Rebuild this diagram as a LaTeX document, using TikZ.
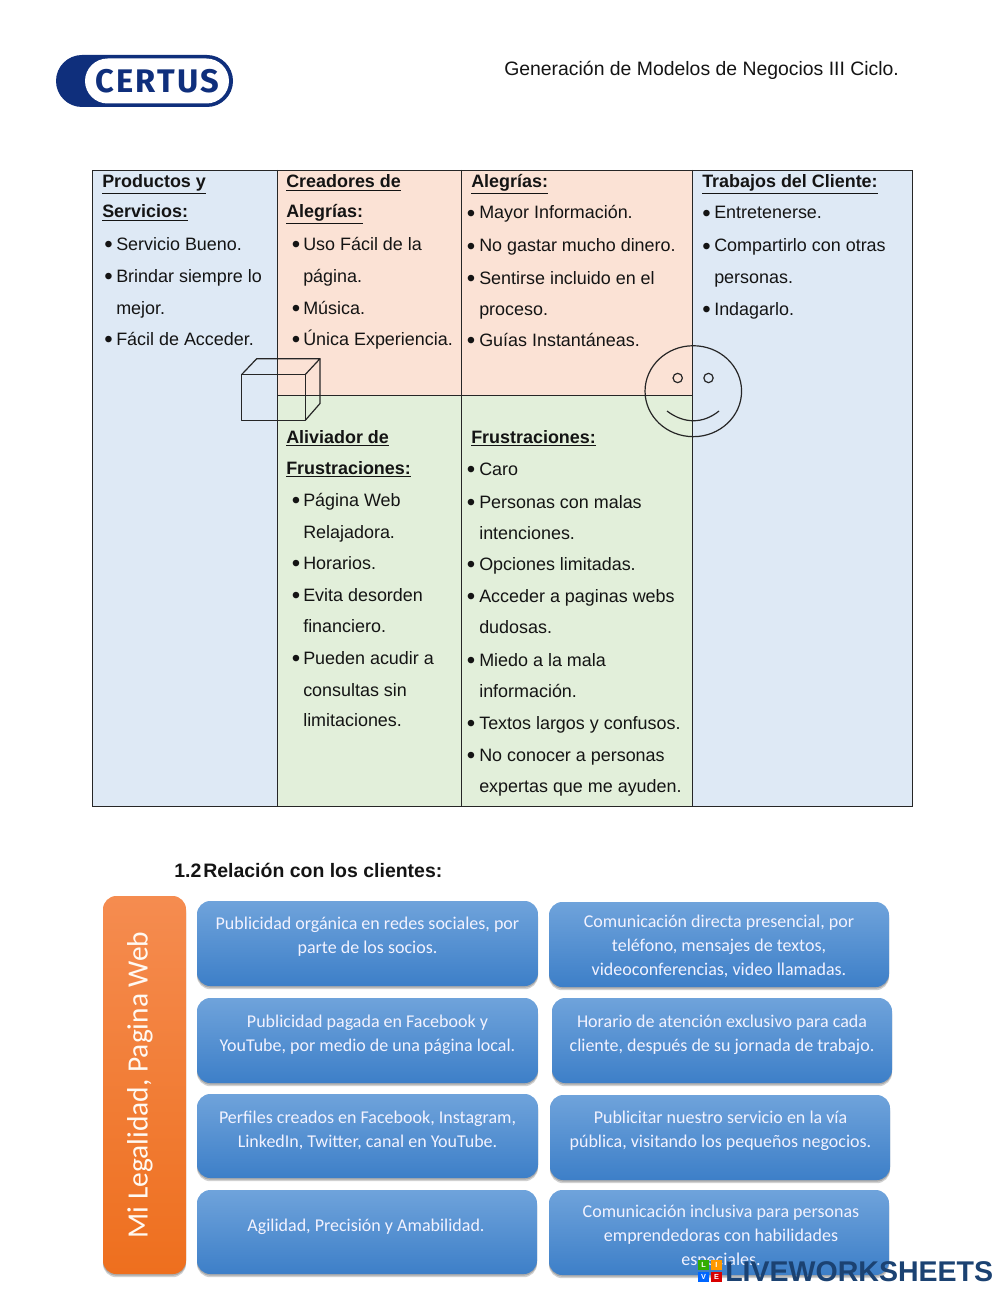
\documentclass[tikz,border=0pt]{standalone}
\usepackage{fontspec}
\setmainfont{Liberation Sans}
\newfontfamily\calib{Carlito}
\newfontfamily\logof[LetterSpace=7]{Fira Sans}
\usetikzlibrary{shadows,calc}
\definecolor{cblue}{HTML}{DEE9F5}
\definecolor{cpeach}{HTML}{FBE2D5}
\definecolor{cgreen}{HTML}{E2EFDA}
\definecolor{navy}{HTML}{0F2F7C}
\definecolor{wm}{HTML}{1B4272}
\definecolor{blue1}{HTML}{6FA3DB}
\definecolor{blue2}{HTML}{3D7FC8}
\definecolor{orange1}{HTML}{F58C50}
\definecolor{orange2}{HTML}{EE6F1E}
\newcounter{tl}
\tikzset{
  body/.style={anchor=base west,inner sep=0pt,yshift=-0.75pt,font=\fontsize{13.45}{16}\selectfont,text=black!92},
  head/.style={body,font=\fontsize{13.45}{16}\selectfont\bfseries},
  secthead/.style={body,font=\fontsize{14.6}{16}\selectfont\bfseries},
  headertext/.style={body,font=\fontsize{14.55}{16}\selectfont},
  bul/.style={anchor=base,inner sep=0pt,yshift=-0.75pt,text=black!92},
  gridline/.style={draw=black!85,line width=0.7pt},
  sketch/.style={draw=black!85,line width=0.9pt},
  softshadow/.style={drop shadow={shadow xshift=0pt,shadow yshift=-1.2pt,opacity=.18,fill=black},
                     drop shadow={shadow xshift=0pt,shadow yshift=-2.4pt,opacity=.18,fill=black}},
  bluebox/.style={rounded corners=10pt,inner sep=0pt,top color=blue1,bottom color=blue2,softshadow},
  orangebox/.style={rounded corners=10pt,inner sep=0pt,top color=orange1,bottom color=orange2,softshadow},
  boxtext/.style={align=center,inner sep=0pt,yshift=-1.1pt,text=white!95!blue,font=\calib\fontsize{13.5}{18}\selectfont},
  tile/.style={inner sep=0pt,minimum size=8.1pt,text=white,font=\fontsize{5.5}{6}\selectfont\bfseries},
}
\newcommand{\tline}[4][body]{\stepcounter{tl}\node[#1,name=tl\arabic{tl}] at (#2,#3) {#4};}
\newcommand{\hdline}[3]{\tline[head]{#1}{#2}{\underline{#3}}}
\newcommand{\bline}[4]{\stepcounter{tl}\node[bul,name=tl\arabic{tl}] at (#1,#3) {\raisebox{-1.6pt}{\fontsize{18}{18}\selectfont •}};\tline{#2}{#3}{#4}}
\newcommand{\rbox}[6]{\pgfmathsetmacro{\cxv}{(#3+#5)/2}\pgfmathsetmacro{\cyv}{(#4+#6)/2}%
  \pgfmathsetmacro{\wv}{(#5-#3)*0.75}\pgfmathsetmacro{\hv}{(#6-#4)*0.75}%
  \node[#1,name=#2,minimum width=\wv pt,minimum height=\hv pt] at (\cxv,\cyv) {};}
\begin{document}
\begin{tikzpicture}[x=0.75pt,y=-0.75pt]
\useasboundingbox (0,0) rectangle (1000,1291);
\fill[white] (0,0) rectangle (1000,1291);
% logo
\rbox{fill=navy,rounded corners=19.5pt}{logoOuter}{56}{55}{233}{107}
\rbox{fill=white,rounded corners=17pt}{logoInner}{85}{58.5}{229}{103.5}
\node[name=logoText,inner sep=0pt,text=navy,font=\logof\fontsize{24.5}{28}\selectfont\bfseries] at (157.5,81) {CERTUS};
\node[name=headerText,headertext] at (504,75) {Generación de Modelos de Negocios III Ciclo.};
% table fills
\fill[cblue] (92.5,170) rectangle (277.5,806);
\fill[cpeach] (277.5,170) rectangle (692.5,395);
\fill[cgreen] (277.5,395) rectangle (692.5,806);
\fill[cblue] (692.5,170) rectangle (912,806);
\draw[gridline] (92.5,170) rectangle (912,806);
\draw[gridline] (277.5,170) -- (277.5,806);
\draw[gridline] (461.5,170) -- (461.5,806);
\draw[gridline] (692.5,170) -- (692.5,806);
\draw[gridline] (277.5,395) -- (692.5,395);
% column 1
\hdline{102}{187}{Productos y}
\hdline{102}{217}{Servicios:}
\bline{108.5}{116}{249.5}{Servicio Bueno.}
\bline{108.5}{116}{281}{Brindar siempre lo}
\tline{116}{313}{mejor.}
\bline{108.5}{116}{344.5}{Fácil de Acceder.}
% column 2 top
\hdline{286}{187}{Creadores de}
\hdline{286}{217}{Alegrías:}
\bline{296}{303}{249.5}{Uso Fácil de la}
\tline{303}{281}{página.}
\bline{296}{303}{313}{Música.}
\bline{296}{303}{344.5}{Única Experiencia.}
% column 3 top
\hdline{471}{187}{Alegrías:}
\bline{471}{479}{218}{Mayor Información.}
\bline{471}{479}{251}{No gastar mucho dinero.}
\bline{471}{479}{283}{Sentirse incluido en el}
\tline{479}{314}{proceso.}
\bline{471}{479}{345.5}{Guías Instantáneas.}
% column 4
\hdline{702}{187}{Trabajos del Cliente:}
\bline{706.5}{714}{218}{Entretenerse.}
\bline{706.5}{714}{251}{Compartirlo con otras}
\tline{714}{282}{personas.}
\bline{706.5}{714}{314}{Indagarlo.}
% column 2 bottom
\hdline{286}{442}{Aliviador de}
\hdline{286}{473}{Frustraciones:}
\bline{296}{303}{505}{Página Web}
\tline{303}{537}{Relajadora.}
\bline{296}{303}{568.5}{Horarios.}
\bline{296}{303}{600.5}{Evita desorden}
\tline{303}{631.5}{financiero.}
\bline{296}{303}{663}{Pueden acudir a}
\tline{303}{695}{consultas sin}
\tline{303}{725.5}{limitaciones.}
% column 3 bottom
\hdline{471}{442}{Frustraciones:}
\bline{471}{479}{474.5}{Caro}
\bline{471}{479}{507}{Personas con malas}
\tline{479}{538}{intenciones.}
\bline{471}{479}{569.5}{Opciones limitadas.}
\bline{471}{479}{601.5}{Acceder a paginas webs}
\tline{479}{632.5}{dudosas.}
\bline{471}{479}{665}{Miedo a la mala}
\tline{479}{696}{información.}
\bline{471}{479}{728.5}{Textos largos y confusos.}
\bline{471}{479}{760}{No conocer a personas}
\tline{479}{791.5}{expertas que me ayuden.}
% cube
\draw[sketch,line join=round] (241.7,374.5) rectangle (305.3,420.3);
\draw[sketch,line join=round] (241.7,374.5) -- (256.7,358.7) -- (320,358.7) -- (305.3,374.5);
\draw[sketch,line join=round] (320,358.7) -- (320,403.5) -- (305.3,420.3);
% smiley
\draw[sketch] (693.3,391.2) ellipse[x radius=36.2pt,y radius=34.1pt];
\draw[sketch] (677.7,378) circle[radius=3.5pt];
\draw[sketch] (708.5,378) circle[radius=3.5pt];
\draw[sketch] (667,411) .. controls (684,424) and (703,424) .. (719,411);
% section heading
\tline[secthead]{174}{876}{1.2}
\tline[secthead]{203}{876}{Relación con los clientes:}
% boxes
\rbox{orangebox}{legal}{103}{896}{186}{1274}
\node[name=legalText,rotate=90,inner sep=0pt,text=white!95!orange,font=\calib\fontsize{22.1}{24}\selectfont] at (140,1085) {Mi Legalidad, Pagina Web};
\rbox{bluebox}{bA}{197}{901}{538}{986}
\rbox{bluebox}{bB}{197}{998}{538}{1083}
\rbox{bluebox}{bC}{197}{1094}{538}{1178}
\rbox{bluebox}{bD}{197}{1190}{537}{1274}
\rbox{bluebox}{bE}{549}{902}{889}{987}
\rbox{bluebox}{bF}{552}{998}{892}{1083}
\rbox{bluebox}{bG}{550}{1095}{890}{1180}
\rbox{bluebox}{bH}{549}{1190}{889}{1275}
\node[boxtext,name=tA] at (367.5,935) {Publicidad orgánica en redes sociales, por\\parte de los socios.};
\node[boxtext,name=tB] at (367.5,1033) {Publicidad pagada en Facebook y\\YouTube, por medio de una página local.};
\node[boxtext,name=tC] at (367.5,1129) {Perfiles creados en Facebook, Instagram,\\LinkedIn, Twitter, canal en YouTube.};
\node[boxtext,name=tD] at (366,1225) {Agilidad, Precisión y Amabilidad.};
\node[boxtext,name=tE] at (719,945) {Comunicación directa presencial, por\\teléfono, mensajes de textos,\\videoconferencias, video llamadas.};
\node[boxtext,name=tF] at (722,1033) {Horario de atención exclusivo para cada\\cliente, después de su jornada de trabajo.};
\node[boxtext,name=tG] at (720.5,1129) {Publicitar nuestro servicio en la vía\\pública, visitando los pequeños negocios.};
\node[boxtext,name=tH] at (721,1235) {Comunicación inclusiva para personas\\emprendedoras con habilidades\\especiales.};
% watermark
\node[tile,fill=green!60!black!80!yellow,name=tileL] at (703.5,1265) {L};
\node[tile,fill=orange!80!yellow,name=tileI] at (716.5,1265) {I};
\node[tile,fill=blue!60!cyan,name=tileV] at (703.5,1277) {V};
\node[tile,fill=red!85!black,name=tileE] at (716.5,1277) {E};
\node[name=wmText,anchor=base west,inner sep=0pt,text=wm,font=\fontsize{21.4}{24}\selectfont\bfseries] at (725,1281) {LIVEWORKSHEETS};
\end{tikzpicture}
\end{document}
